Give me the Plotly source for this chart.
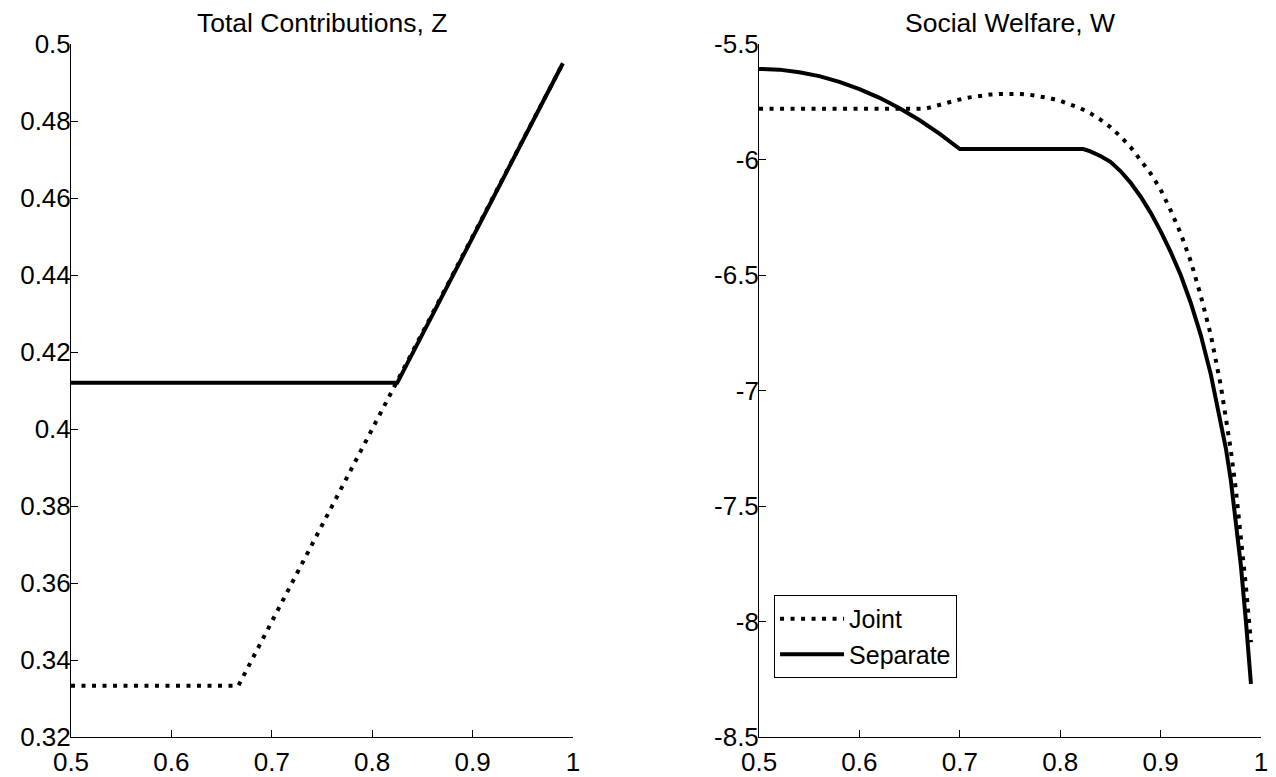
import plotly.graph_objects as go
from plotly.subplots import make_subplots

# ---- data ----
x_ticks = [0.5, 0.6, 0.7, 0.8, 0.9, 1.0]
x_ticktext = ["0.5", "0.6", "0.7", "0.8", "0.9", "1"]
z_ticks = [0.32, 0.34, 0.36, 0.38, 0.40, 0.42, 0.44, 0.46, 0.48, 0.50]
z_ticktext = ["0.32", "0.34", "0.36", "0.38", "0.4", "0.42", "0.44", "0.46", "0.48", "0.5"]
w_ticks = [-8.5, -8.0, -7.5, -7.0, -6.5, -6.0, -5.5]
w_ticktext = ["-8.5", "-8", "-7.5", "-7", "-6.5", "-6", "-5.5"]

# Total contributions Z
z_joint_x = [0.5, 0.6667, 0.99]
z_joint_y = [0.3333, 0.3333, 0.495]
z_sep_x = [0.5, 0.825, 0.99]
z_sep_y = [0.412, 0.412, 0.495]

# Social welfare W
w_joint_x = [0.5, 0.665, 0.67, 0.68, 0.69, 0.70, 0.71, 0.72, 0.73, 0.74, 0.75, 0.76, 0.77,
             0.78, 0.79, 0.80, 0.81, 0.82, 0.83, 0.84, 0.85, 0.86, 0.87, 0.88, 0.89, 0.90,
             0.91, 0.92, 0.93, 0.94, 0.95, 0.96, 0.965, 0.97, 0.975, 0.98, 0.985, 0.99]
w_joint_y = [-5.78, -5.78, -5.775, -5.762, -5.75, -5.74, -5.731, -5.724, -5.719, -5.716,
             -5.715, -5.716, -5.72, -5.726, -5.735, -5.746, -5.76, -5.778, -5.80, -5.827,
             -5.86, -5.90, -5.946, -6.00, -6.06, -6.13, -6.22, -6.32, -6.44, -6.59, -6.76,
             -6.98, -7.11, -7.26, -7.43, -7.63, -7.85, -8.09]
w_sep_x = [0.5, 0.52, 0.54, 0.56, 0.58, 0.60, 0.62, 0.64, 0.66, 0.68, 0.70, 0.823,
           0.83, 0.84, 0.85, 0.86, 0.87, 0.88, 0.89, 0.90, 0.91, 0.92, 0.93, 0.94, 0.95,
           0.96, 0.965, 0.97, 0.975, 0.98, 0.985, 0.99]
w_sep_y = [-5.608, -5.611, -5.622, -5.639, -5.664, -5.695, -5.733, -5.778, -5.830, -5.889,
           -5.955, -5.955, -5.965, -5.985, -6.01, -6.05, -6.10, -6.16, -6.23, -6.31, -6.40,
           -6.50, -6.62, -6.76, -6.93, -7.13, -7.25, -7.39, -7.56, -7.76, -8.00, -8.27]

FONT = "Liberation Sans, Arial, sans-serif"
DOT = "4px,6.5px"
LW = 4

fig = make_subplots(rows=1, cols=2, horizontal_spacing=0.1564)
fig.update_xaxes(domain=[0, 0.4218], row=1, col=1)
fig.update_xaxes(domain=[0.5782, 1], row=1, col=2)

fig.add_trace(go.Scatter(x=z_joint_x, y=z_joint_y, mode="lines", name="Joint",
                         line=dict(color="black", width=LW, dash=DOT), showlegend=False),
              row=1, col=1)
fig.add_trace(go.Scatter(x=z_sep_x, y=z_sep_y, mode="lines", name="Separate",
                         line=dict(color="black", width=LW), showlegend=False),
              row=1, col=1)
fig.add_trace(go.Scatter(x=w_joint_x, y=w_joint_y, mode="lines", name="Joint",
                         line=dict(color="black", width=LW, dash=DOT)),
              row=1, col=2)
fig.add_trace(go.Scatter(x=w_sep_x, y=w_sep_y, mode="lines", name="Separate",
                         line=dict(color="black", width=LW)),
              row=1, col=2)

axis_common = dict(showgrid=False, zeroline=False, showline=True, linecolor="black",
                   linewidth=1, ticks="inside", ticklen=7, tickwidth=1, tickcolor="black",
                   mirror=False, automargin=False,
                   tickfont=dict(family=FONT, size=26, color="black"))

fig.update_xaxes(range=[0.5, 1.0], tickvals=x_ticks, ticktext=x_ticktext,
                 ticklabelstandoff=2, **axis_common)
fig.update_yaxes(range=[0.32, 0.5], tickvals=z_ticks, ticktext=z_ticktext, row=1, col=1,
                 ticklabelstandoff=-6, **axis_common)
fig.update_yaxes(range=[-8.5, -5.5], tickvals=w_ticks, ticktext=w_ticktext, row=1, col=2,
                 ticklabelstandoff=-6, **axis_common)

fig.add_annotation(text="Total Contributions, Z", xref="paper", yref="paper",
                   x=0.2109, y=1, xanchor="center", yanchor="bottom", yshift=4,
                   showarrow=False, font=dict(family=FONT, size=26.5, color="black"))
fig.add_annotation(text="Social Welfare, W", xref="paper", yref="paper",
                   x=0.7891, y=1, xanchor="center", yanchor="bottom", yshift=4,
                   showarrow=False, font=dict(family=FONT, size=26.5, color="black"))

fig.update_layout(
    width=1268, height=769,
    margin=dict(l=63, r=15, t=36, b=40),
    paper_bgcolor="white", plot_bgcolor="white",
    font=dict(family=FONT, size=26, color="black"),
    legend=dict(x=0.5908, y=0.205, xanchor="left", yanchor="top",
                bordercolor="black", borderwidth=1, bgcolor="white",
                font=dict(family=FONT, size=25, color="black"),
                tracegroupgap=0, itemwidth=64),
    showlegend=True,
)

fig.write_html("out.html")
